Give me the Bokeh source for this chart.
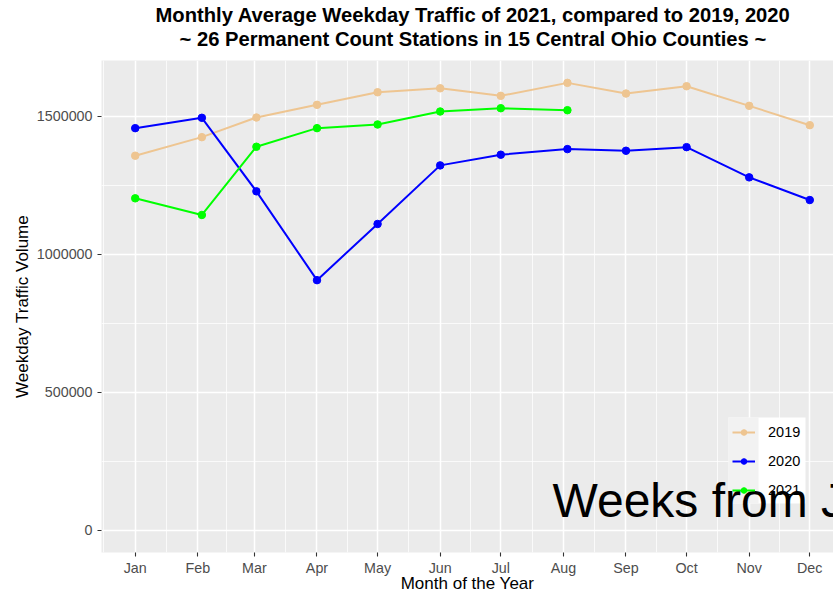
import pandas as pd
from bokeh.plotting import figure
from bokeh.models import (Range1d, FixedTicker, NumeralTickFormatter, Legend, LegendItem,
                          Label, BoxAnnotation, ColumnDataSource, Title)
from bokeh.embed import file_html
from bokeh.resources import INLINE

# ---------------- data ----------------
dates = ["2021-01-01", "2021-02-03", "2021-03-02", "2021-04-01", "2021-05-01", "2021-06-01",
         "2021-07-01", "2021-08-03", "2021-09-01", "2021-10-01", "2021-11-01", "2021-12-01"]
vol_2019 = [1357500, 1424800, 1496000, 1542000, 1587600, 1602000,
            1574500, 1621600, 1582900, 1609400, 1538300, 1468200]
vol_2020 = [1457400, 1494900, 1228300, 906300, 1110000, 1322400,
            1361100, 1381400, 1375500, 1388600, 1279000, 1196800]
vol_2021 = [1203000, 1142600, 1390000, 1457400, 1470700, 1517800,
            1529700, 1522500]
years = ["2019", "2020", "2021"]
month_starts = ["2021-01-01", "2021-02-01", "2021-03-01", "2021-04-01", "2021-05-01", "2021-06-01",
                "2021-07-01", "2021-08-01", "2021-09-01", "2021-10-01", "2021-11-01", "2021-12-01"]
month_labels = ["Jan", "Feb", "Mar", "Apr", "May", "Jun", "Jul", "Aug", "Sep", "Oct", "Nov", "Dec"]
y_ticks = [0, 500000, 1000000, 1500000]
y_minor = [250000, 750000, 1250000]
title_line1 = "Monthly Average Weekday Traffic of 2021, compared to 2019, 2020"
title_line2 = "~ 26 Permanent Count Stations in 15 Central Ohio Counties ~"

base = pd.Timestamp("2021-01-01")
def doy(s):
    return (pd.Timestamp(s) - base).days

days = [doy(d) for d in dates]
tick_days = [doy(d) for d in month_starts]
minor_days = [tick_days[0] - 15.5] + [(a + b) / 2 for a, b in zip(tick_days[:-1], tick_days[1:])] + [tick_days[-1] + 15.5]

colors = {"2019": "#EEC591", "2020": "#0000FF", "2021": "#00FF00"}
series = {"2019": vol_2019, "2020": vol_2020, "2021": vol_2021}

# ggplot-like 5% expansion; panel is cropped on the right in the reference
lo, hi = min(days), max(days)
pad = 0.05 * (hi - lo)
x0 = lo - pad
x1 = x0 + (hi + pad - x0) * 732 / 742
ymax = max(max(v) for v in series.values())
ypad = 0.05 * (ymax - 0)
y0, y1 = 0 - ypad, ymax + ypad

FONT = "Liberation Sans"

p = figure(width=833, height=596, output_backend="svg", toolbar_location=None,
           x_range=Range1d(x0, x1), y_range=Range1d(y0, y1),
           min_border_left=101, min_border_right=0, min_border_top=60, min_border_bottom=44,
           background_fill_color="#EBEBEB", border_fill_color="white", outline_line_color=None)

def style_title(t, standoff, offset):
    t.text_font = FONT
    t.text_font_size = "20.2px"
    t.text_font_style = "bold"
    t.text_color = "black"
    t.align = "left"
    t.offset = offset
    t.standoff = standoff

p.title.text = title_line1
style_title(p.title, -21, 54)
t2 = Title(text=title_line2)
style_title(t2, 21, 78)
p.add_layout(t2, "above")

# axes
p.xaxis.ticker = FixedTicker(ticks=tick_days, minor_ticks=minor_days)
p.xaxis.major_label_overrides = {t: l for t, l in zip(tick_days, month_labels)}
p.yaxis.ticker = FixedTicker(ticks=y_ticks, minor_ticks=y_minor)
p.yaxis.formatter = NumeralTickFormatter(format="0")
for ax in (p.xaxis[0], p.yaxis[0]):
    ax.axis_line_color = None
    ax.major_tick_line_color = "#333333"
    ax.major_tick_line_width = 1.1
    ax.major_tick_in = 0
    ax.major_tick_out = 4
    ax.minor_tick_line_color = None
    ax.major_label_text_font = FONT
    ax.major_label_text_font_size = "14.3px"
    ax.major_label_text_color = "#4D4D4D"
    ax.axis_label_text_font = FONT
    ax.axis_label_text_font_size = "17px"
    ax.axis_label_text_font_style = "normal"
    ax.axis_label_text_color = "black"
p.xaxis.axis_label = "Month of the Year"
p.yaxis.axis_label = "Weekday Traffic Volume"
p.xaxis.major_label_standoff = 3
p.xaxis.axis_label_standoff = -5
p.yaxis.major_label_standoff = 5
p.yaxis.axis_label_standoff = 2

for g in (p.xgrid[0], p.ygrid[0]):
    g.grid_line_color = "white"
    g.grid_line_width = 1.5
    g.minor_grid_line_color = "white"
    g.minor_grid_line_width = 0.75

# lines then points
line_r, pt_r = {}, {}
for yr in years:
    vals = series[yr]
    src = ColumnDataSource(dict(x=days[:len(vals)], y=vals))
    line_r[yr] = p.line("x", "y", source=src, line_color=colors[yr], line_width=2)
for yr in years:
    vals = series[yr]
    src = ColumnDataSource(dict(x=days[:len(vals)], y=vals))
    pt_r[yr] = p.scatter("x", "y", source=src, fill_color=colors[yr], line_color=colors[yr], size=7.5)

# legend background (ggplot style: white box, grey95 key column)
p.add_layout(BoxAnnotation(left=627, right=704, bottom=49, top=135,
                           left_units="screen", right_units="screen",
                           bottom_units="screen", top_units="screen",
                           fill_color="white", fill_alpha=1, line_color=None))
p.add_layout(BoxAnnotation(left=627, right=657, bottom=49, top=135,
                           left_units="screen", right_units="screen",
                           bottom_units="screen", top_units="screen",
                           fill_color="#F2F2F2", fill_alpha=1, line_color=None))

legend = Legend(items=[LegendItem(label=yr, renderers=[line_r[yr], pt_r[yr]]) for yr in years],
                location=(631, 54), padding=0, margin=0, spacing=13,
                glyph_width=23, glyph_height=14, label_standoff=13,
                label_text_font=FONT, label_text_font_size="14.5px", label_text_color="black",
                background_fill_alpha=0, border_line_color=None)
p.add_layout(legend, "center")

p.add_layout(Label(x=451, y=52, x_units="screen", y_units="screen", text="Weeks from J",
                   text_font=FONT, text_font_size="48px", text_color="black",
                   text_baseline="alphabetic", text_align="left"))

open("out.html", "w").write(file_html(p, INLINE))
